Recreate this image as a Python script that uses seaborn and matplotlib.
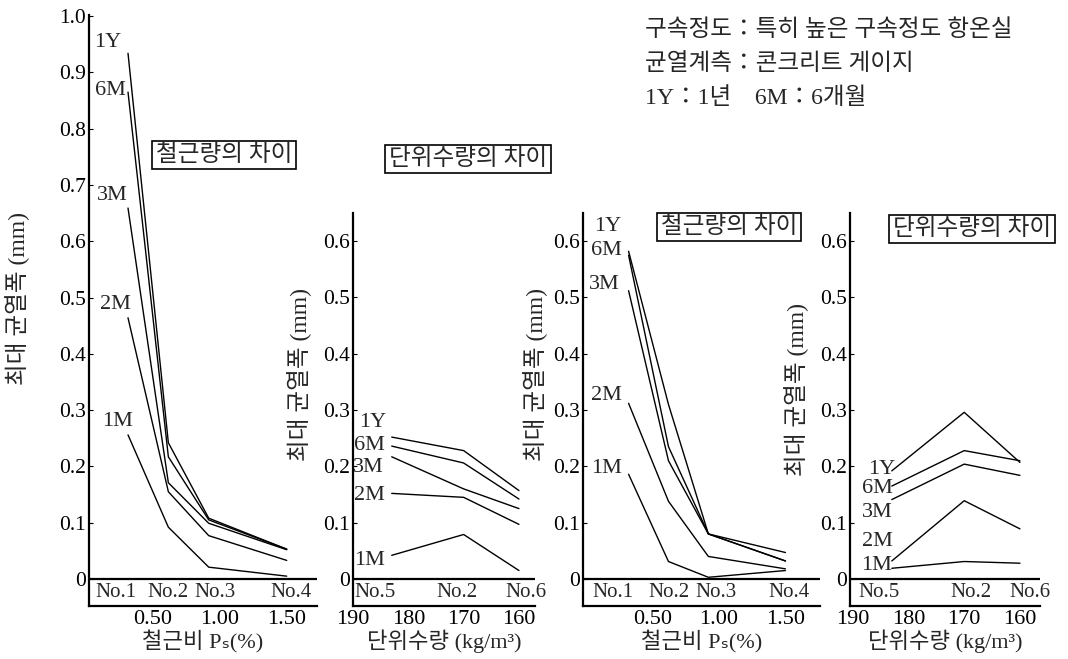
import numpy as np
import pandas as pd
import matplotlib
matplotlib.use("Agg")
import matplotlib.pyplot as plt
import seaborn as sns

sns.set_theme(style="ticks")
plt.rcParams['font.family'] = ['Liberation Serif', 'Noto Sans CJK KR', 'DejaVu Sans']

periods = ["1Y", "6M", "3M", "2M", "1M"]

# 철근량의 차이 : 시험체와 철근비 Ps(%)
steel_names = ["No.1", "No.2", "No.3", "No.4"]
steel_ps = [0.32, 0.62, 0.92, 1.50]
# 단위수량의 차이 : 시험체와 단위수량 (kg/m3)
water_names = ["No.5", "No.2", "No.6"]
water_kg = [183, 170, 160]

# max crack width (mm), rows follow periods
steel_left = [
    [0.934, 0.242, 0.108, 0.053],
    [0.865, 0.217, 0.105, 0.053],
    [0.659, 0.171, 0.099, 0.052],
    [0.464, 0.155, 0.077, 0.033],
    [0.256, 0.092, 0.021, 0.005],
]
water_left = [
    [0.252, 0.228, 0.157],
    [0.236, 0.206, 0.142],
    [0.217, 0.160, 0.125],
    [0.152, 0.145, 0.097],
    [0.042, 0.079, 0.015],
]
steel_right = [
    [0.582, 0.310, 0.080, 0.047],
    [0.575, 0.235, 0.080, 0.032],
    [0.512, 0.210, 0.080, 0.032],
    [0.312, 0.138, 0.040, 0.018],
    [0.186, 0.031, 0.003, 0.015],
]
water_right = [
    [0.192, 0.296, 0.207],
    [0.165, 0.228, 0.210],
    [0.141, 0.204, 0.184],
    [0.032, 0.139, 0.089],
    [0.019, 0.031, 0.028],
]

ylab = "최대 균열폭 (mm)"
W, H = 1068, 659
fig = plt.figure(figsize=(W / 100, H / 100), dpi=100)


def px_axes(x0, y0, x1, y1):
    return fig.add_axes([x0 / W, 1 - y1 / H, (x1 - x0) / W, (y1 - y0) / H])


def long_table(xvals, rows):
    recs = []
    for p, row in zip(periods, rows):
        for x, v in zip(xvals, row):
            recs.append((p, x, v))
    return pd.DataFrame(recs, columns=["period", "x", "width"])


def draw(ax, xvals, names, rows, ylim, xlim, xticks, xticklabels, xlabel,
         lab_off, name_dx, ymax_tick, ylab_xy):
    df = long_table(xvals, rows)
    sns.lineplot(data=df, x="x", y="width", hue="period", palette=["black"] * 5,
                 legend=False, errorbar=None, linewidth=1.0, ax=ax)
    ax.set_xlim(*xlim)
    ax.set_ylim(*ylim)
    for s in ["top", "right"]:
        ax.spines[s].set_visible(False)
    for s in ["left", "bottom"]:
        ax.spines[s].set_linewidth(1.6)
        ax.spines[s].set_color("black")
    ax.axhline(0, color="black", lw=1.6)
    yt = np.round(np.arange(0, ymax_tick + 0.001, 0.1), 1)
    ax.set_yticks(yt)
    ax.set_yticklabels(["0"] + [f"{v:.1f}" for v in yt[1:]], fontsize=15.5)
    ax.set_xticks(xticks)
    ax.set_xticklabels(xticklabels, fontsize=16)
    ax.tick_params(axis="y", direction="in", length=3, width=0.8, pad=2, colors="black")
    ax.tick_params(axis="x", length=0, pad=3, colors="black")
    ax.set_xlabel(xlabel, fontsize=16, labelpad=0)
    ax.set_ylabel(ylab, fontsize=17)
    ax.yaxis.set_label_coords(*ylab_xy)
    for nm, x, dx in zip(names, xvals, name_dx):
        ax.annotate(nm, xy=(x, -0.024), xytext=(dx, 0), textcoords="offset pixels",
                    ha="center", va="center", fontsize=15)
    for p, row, off in zip(periods, rows, lab_off):
        ax.annotate(p, xy=(xvals[0], row[0]), xytext=off, textcoords="offset pixels",
                    ha="center", va="center", fontsize=16)


ax1 = px_axes(89, 15, 317, 606)
ax2 = px_axes(353, 213, 535, 606)
ax3 = px_axes(583, 213, 820, 606)
ax4 = px_axes(850, 213, 1040, 606)

ps_label = "철근비 Pₛ(%)"
wt_label = "단위수량 (kg/m³)"

draw(ax1, steel_ps, steel_names, steel_left, (-0.048, 1.002), (0.03, 1.725),
     [0.5, 1.0, 1.5], ["0.50", "1.00", "1.50"], ps_label,
     [(-20, 11), (-18, 2), (-16, 13), (-13, 13), (-10, 13)],
     [-12, 0, 6, 4], 1.0, (-0.26, 0.52))
draw(ax2, water_kg, water_names, water_left, (-0.048, 0.65), (190, 157.1),
     [190, 180, 170, 160], ["190", "180", "170", "160"], wt_label,
     [(-19, 15), (-22, 1), (-23, -11), (-22, -2), (-22, -5)],
     [-17, -7, 7], 0.6, (-0.225, 0.59))
draw(ax3, steel_ps, steel_names, steel_right, (-0.048, 0.65), (-0.023, 1.76),
     [0.5, 1.0, 1.5], ["0.50", "1.00", "1.50"], ps_label,
     [(-21, 25), (-22, 5), (-24, 6), (-22, 8), (-22, 6)],
     [-16, 0, 8, 4], 0.6, (-0.148, 0.59))
draw(ax4, water_kg, water_names, water_right, (-0.048, 0.65), (190.5, 156.4),
     [190, 180, 170, 160], ["190", "180", "170", "160"], wt_label,
     [(-10, 1), (-14, -2), (-14, -13), (-14, 19), (-15, 3)],
     [-13, 7, 10], 0.6, (-0.216, 0.55))

box = dict(boxstyle="square,pad=0.15", fc="white", ec="black", lw=1.2)
for txt, cx, cy in [("철근량의 차이", 224, 155), ("단위수량의 차이", 468, 159),
                    ("철근량의 차이", 729, 227), ("단위수량의 차이", 972, 229)]:
    fig.text(cx / W, 1 - cy / H, txt, ha="center", va="center", fontsize=17, bbox=box)

notes = ["구속정도：특히 높은 구속정도 항온실", "균열계측：콘크리트 게이지", "1Y：1년　6M：6개월"]
for txt, cy in zip(notes, [30, 64, 98]):
    fig.text(645 / W, 1 - cy / H, txt, ha="left", va="center", fontsize=17)

fig.savefig("out.png", dpi=100, facecolor="white")
